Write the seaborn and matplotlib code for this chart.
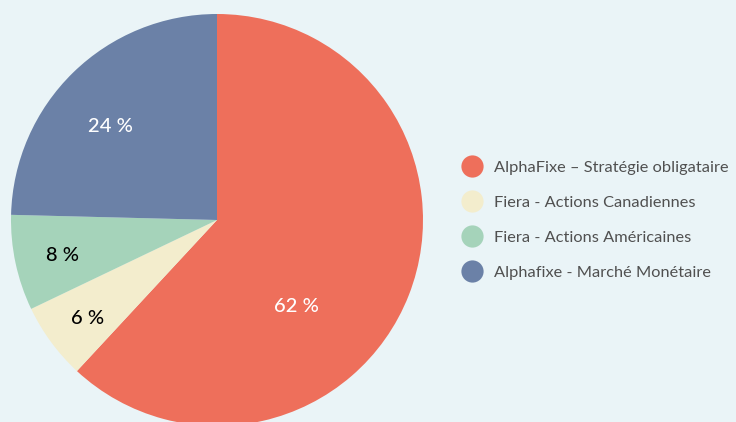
import numpy as np
import matplotlib
matplotlib.use("Agg")
import matplotlib.pyplot as plt
from matplotlib.lines import Line2D
import seaborn as sns

# Data
categories = [
    "AlphaFixe \u2013 Strat\u00e9gie obligataire",
    "Fiera - Actions Canadiennes",
    "Fiera - Actions Am\u00e9ricaines",
    "Alphafixe - March\u00e9 Mon\u00e9taire",
]
shares = [61.9, 6.0, 7.5, 24.6]
pct_labels = ["62 %", "6 %", "8 %", "24 %"]

# Style
colors = ["#EE6F5B", "#F3EDCD", "#A5D3BA", "#6B81A7"]
text_colors = ["white", "black", "black", "white"]
label_shift = [(-26, 0.57), (1.1, 0.79), (0.7, 0.77), (4.4, 0.69)]  # (deg offset, radius)
bg = "#EAF4F7"

sns.set_theme(style="white")
plt.rcParams["font.family"] = ["Lato", "DejaVu Sans"]
palette = sns.color_palette(colors)

fig = plt.figure(figsize=(7.36, 4.22), dpi=100, facecolor=bg)
ax = fig.add_axes([11 / 736, -4 / 422, 412 / 736, 412 / 422])
ax.set_facecolor(bg)

wedges, _ = ax.pie(shares, colors=palette, startangle=90, counterclock=False,
                   wedgeprops=dict(linewidth=0))
ax.set_aspect("equal")
ax.set_xlim(-1, 1)
ax.set_ylim(-1, 1)

for w, lab, tc, (dth, rr) in zip(wedges, pct_labels, text_colors, label_shift):
    mid = np.deg2rad((w.theta1 + w.theta2) / 2 + dth)
    ax.text(rr * np.cos(mid), rr * np.sin(mid), lab, color=tc,
            ha="center", va="center", fontsize=14.5, fontweight="medium")

handles = [Line2D([0], [0], marker="o", linestyle="none", markersize=16,
                  markerfacecolor=c, markeredgewidth=0) for c in palette]
leg = fig.legend(handles, categories, loc="center left",
                 bbox_to_anchor=(451 / 736, 0.478), frameon=False,
                 fontsize=11.8, labelspacing=1.26, handletextpad=0.5,
                 handlelength=1.6, borderpad=0)
for t in leg.get_texts():
    t.set_color("#505050")

fig.savefig("out.png", dpi=100, facecolor=bg)
